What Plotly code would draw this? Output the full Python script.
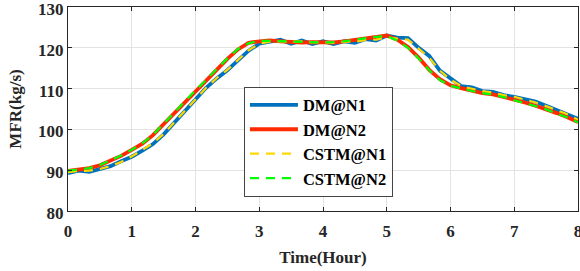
import plotly.graph_objects as go

time_h = [i / 6 for i in range(49)]

dm_n1 = [89.3, 89.9, 89.6, 90.4, 91.0, 92.2, 93.3, 94.8, 96.4, 98.8, 101.6, 104.4, 107.3,
         110.2, 112.5, 114.5, 116.9, 119.3, 121.0, 121.4, 122.0, 121.0, 121.8, 120.9, 121.6,
         120.9, 121.6, 121.2, 122.1, 121.8, 123.0, 122.5, 122.4, 120.0, 118.0, 114.4, 112.4,
         110.6, 110.3, 109.4, 109.2, 108.4, 108.0, 107.3, 106.8, 105.8, 104.8, 103.8, 102.6]
dm_n2 = [89.8, 90.1, 90.5, 91.2, 92.3, 93.5, 95.0, 96.5, 98.6, 101.3, 104.1, 106.8, 109.5,
         112.2, 114.6, 117.3, 119.6, 121.2, 121.6, 121.8, 121.6, 121.4, 121.3, 121.4, 121.3,
         121.3, 121.6, 121.9, 122.4, 122.6, 123.0, 122.0, 120.2, 117.6, 114.6, 112.3, 110.8,
         110.1, 109.4, 108.9, 108.6, 108.0, 107.3, 106.6, 105.8, 105.0, 104.0, 103.0, 101.8]
cstm_n1 = [89.5, 89.8, 89.9, 90.3, 91.0, 92.0, 93.4, 94.9, 96.6, 98.9, 101.7, 104.5, 107.4,
           110.2, 112.6, 114.6, 117.0, 119.4, 121.0, 121.5, 121.6, 121.4, 121.6, 121.3, 121.4,
           121.2, 121.5, 121.5, 121.9, 122.0, 122.5, 122.3, 122.0, 119.8, 117.6, 114.4, 112.2,
           110.6, 110.0, 109.4, 109.0, 108.4, 108.0, 107.3, 106.6, 105.7, 104.7, 103.7, 102.4]
cstm_n2 = [89.9, 90.2, 90.5, 91.3, 92.4, 93.6, 95.0, 96.6, 98.7, 101.3, 104.1, 106.9, 109.6,
           112.3, 114.8, 117.4, 119.7, 121.1, 121.7, 121.7, 121.6, 121.5, 121.4, 121.4, 121.3,
           121.4, 121.6, 122.0, 122.4, 122.7, 122.9, 121.8, 120.0, 117.4, 114.5, 112.1, 110.7,
           110.0, 109.4, 108.9, 108.5, 107.9, 107.2, 106.5, 105.7, 104.9, 103.9, 102.9, 101.7]

x_ticks = [0, 1, 2, 3, 4, 5, 6, 7, 8]
y_ticks = [80, 90, 100, 110, 120, 130]

FONT = "Liberation Serif"
TXT = "#262626"

fig = go.Figure()
series = [
    ("DM@N1", dm_n1, "#0072BD", 3.8, "solid"),
    ("DM@N2", dm_n2, "#FF2A00", 3.8, "solid"),
    ("CSTM@N1", cstm_n1, "#FFD700", 2.2, "9px,7px"),
    ("CSTM@N2", cstm_n2, "#00FF00", 2.2, "9px,7px"),
]
for name, vals, col, w, dash in series:
    fig.add_trace(go.Scatter(x=time_h, y=vals, mode="lines", name=name,
                             line=dict(color=col, width=w, dash=dash)))

axis_common = dict(showline=True, linecolor=TXT, linewidth=1, mirror="ticks",
                   ticks="inside", ticklen=4, tickcolor=TXT, automargin=False,
                   ticklabeloverflow="allow",
                   showgrid=True, gridcolor="#e3e3e3", gridwidth=1, zeroline=False,
                   tickfont=dict(family=FONT, size=17, color=TXT, weight="bold"))

fig.update_layout(
    width=580, height=271,
    margin=dict(l=68, r=2, t=7, b=60),
    paper_bgcolor="white", plot_bgcolor="white",
    xaxis=dict(range=[0, 8], tickvals=x_ticks, ticklabelstandoff=5,
               title=dict(text="Time(Hour)", standoff=10,
                          font=dict(family=FONT, size=17, color=TXT, weight="bold")),
               **axis_common),
    yaxis=dict(range=[80, 130], tickvals=y_ticks, ticklabelshift=2,
               title=dict(text="MFR(kg/s)", standoff=12,
                          font=dict(family=FONT, size=17, color=TXT, weight="bold")),
               **axis_common),
    legend=dict(x=0.345, y=0.61, xanchor="left", yanchor="top",
                bgcolor="white", bordercolor="#444444", borderwidth=1,
                itemwidth=48,
                font=dict(family=FONT, size=16.5, color="black", weight="bold")),
)

fig.write_html("out.html", config={"displayModeBar": False},
               post_script="document.body.style.margin='0';")
